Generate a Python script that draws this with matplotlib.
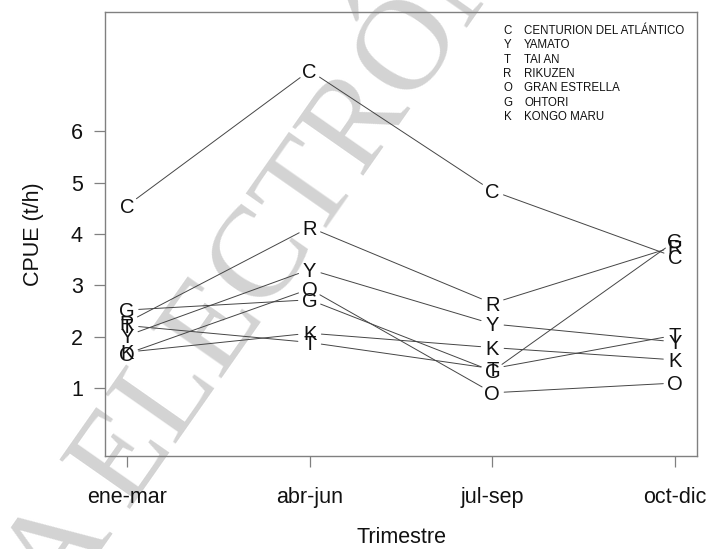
import matplotlib.pyplot as plt

plt.rcParams['font.family'] = ['Liberation Sans', 'DejaVu Sans']

# Datos (CPUE en t/h por trimestre)
trimestres = ['ene-mar', 'abr-jun', 'jul-sep', 'oct-dic']
letras = ['C', 'Y', 'T', 'R', 'O', 'G', 'K']
barcos = ['CENTURION DEL ATLÁNTICO', 'YAMATO', 'TAI AN', 'RIKUZEN',
          'GRAN ESTRELLA', 'OHTORI', 'KONGO MARU']

cpue_C = [4.55, 7.18, 4.84, 3.55]
cpue_Y = [2.02, 3.31, 2.25, 1.90]
cpue_T = [2.22, 1.89, 1.38, 2.03]
cpue_R = [2.28, 4.13, 2.65, 3.76]
cpue_O = [1.67, 2.93, 0.91, 1.10]
cpue_G = [2.52, 2.72, 1.33, 3.86]
cpue_K = [1.70, 2.07, 1.79, 1.55]

series = [cpue_C, cpue_Y, cpue_T, cpue_R, cpue_O, cpue_G, cpue_K]
x = [1, 2, 3, 4]

fig = plt.figure(figsize=(7.1, 5.49), dpi=100)
ax = fig.add_axes([0.1479, 0.1694, 0.8338, 0.8087])
ax.set_facecolor('none')

# marca de agua
fig.text(-0.156, -0.555, 'COPIA ELECTRÓNICA', rotation=55, rotation_mode='anchor',
         ha='left', va='baseline', fontsize=94, family='Liberation Serif',
         color='#d3d3d3', zorder=-5)

# lineas tipo "b" de R (con hueco alrededor de cada letra)
for letra, vals in zip(letras, series):
    for i in range(len(x) - 1):
        ax.annotate('', xy=(x[i + 1], vals[i + 1]), xytext=(x[i], vals[i]),
                    arrowprops=dict(arrowstyle='-', shrinkA=8.5, shrinkB=8.5,
                                    color='#454545', lw=0.7))
    for xi, yi in zip(x, vals):
        ax.annotate(letra, xy=(xi, yi), xytext=(0, -5.2), textcoords='offset points',
                    ha='center', va='baseline', fontsize=14.5, color='#111111')

ax.set_xlim(0.88, 4.12)
ax.set_ylim(-0.32, 8.32)
ax.set_xticks(x)
ax.set_xticklabels(trimestres)
ax.set_yticks([1, 2, 3, 4, 5, 6])

for s in ax.spines.values():
    s.set_color('#808080')
    s.set_linewidth(1.0)
ax.tick_params(axis='both', length=8, width=0.9, color='#808080', labelsize=15.5,
               labelcolor='#111111')
ax.tick_params(axis='x', pad=14)
ax.tick_params(axis='y', pad=8)

ax.set_xlabel('Trimestre', fontsize=15.5, labelpad=14, color='#111111')
ax.set_ylabel('CPUE (t/h)', fontsize=15.5, labelpad=19, color='#111111')

# leyenda
for j, (letra, nombre) in enumerate(zip(letras, barcos)):
    yy = 0.957 - j * 0.0322
    ax.text(0.680, yy, letra, transform=ax.transAxes, ha='center', va='center',
            fontsize=8.3, color='#111111')
    ax.text(0.708, yy, nombre, transform=ax.transAxes, ha='left', va='center',
            fontsize=8.3, color='#111111')

fig.savefig('out.png', dpi=100)
